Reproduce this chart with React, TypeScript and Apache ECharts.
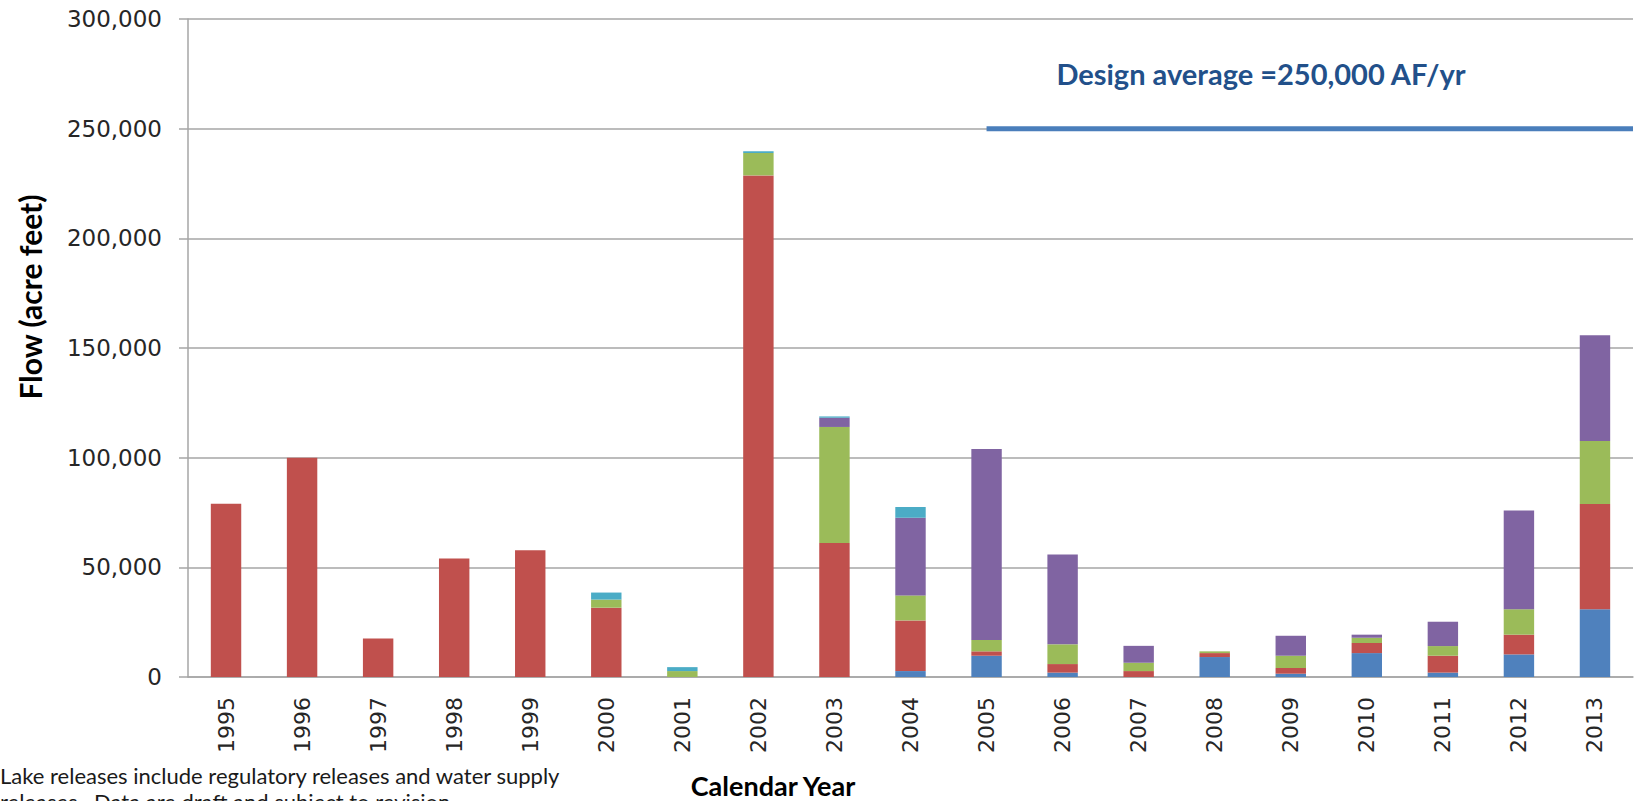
import React, { useEffect, useRef } from "react";
import * as echarts from "echarts";

const years = ["1995","1996","1997","1998","1999","2000","2001","2002","2003","2004","2005","2006","2007","2008","2009","2010","2011","2012","2013"];
const blueVals   = [0, 0, 0, 0, 0, 0, 0, 0, 0, 2700, 9700, 2000, 0, 9100, 1500, 10900, 2000, 10300, 30900];
const redVals    = [79000, 100000, 17500, 54000, 57800, 31600, 0, 228700, 61100, 23100, 2000, 3900, 2700, 1800, 2600, 4600, 7700, 9000, 48000];
const greenVals  = [0, 0, 0, 0, 0, 3700, 2700, 10200, 52900, 11400, 5200, 9000, 3800, 800, 5600, 2400, 4400, 11600, 28700];
const purpleVals = [0, 0, 0, 0, 0, 0, 0, 0, 4200, 35400, 87100, 40900, 7700, 0, 9100, 1400, 11100, 45000, 48200];
const cyanVals   = [0, 0, 0, 0, 0, 3200, 1800, 800, 600, 4900, 0, 0, 0, 0, 0, 0, 0, 0, 0];
const designAverage = 250000;
const designLineStartIndex = 10.5; // centre of 2005
const yTicks = { min: 0, max: 300000, interval: 50000 };

const seriesDefs = [
  { name: "Series 1", data: blueVals, color: "#4F81BD" },
  { name: "Series 2", data: redVals, color: "#C0504D" },
  { name: "Series 3", data: greenVals, color: "#9BBB59" },
  { name: "Series 4", data: purpleVals, color: "#8064A2" },
  { name: "Series 5", data: cyanVals, color: "#4BACC6" },
];

export default function App() {
  const ref = useRef<HTMLDivElement>(null);
  useEffect(() => {
    if (!ref.current) return;
    const chart = echarts.init(ref.current, null, { renderer: "svg" });
    const gray = "#A6A6A6";
    const barSeries = seriesDefs.map((s) => ({
      name: s.name,
      type: "bar",
      stack: "total",
      barWidth: "40%",
      data: s.data,
      itemStyle: { color: s.color },
      xAxisIndex: 0,
      yAxisIndex: 0,
    }));
    chart.setOption({
      animation: false,
      backgroundColor: "#ffffff",
      grid: { left: 188, right: 19, top: 19, bottom: 124, containLabel: false },
      xAxis: [
        {
          type: "category",
          data: years,
          axisLine: { lineStyle: { color: gray, width: 1.5 } },
          axisTick: { length: 10, lineStyle: { color: gray, width: 1.5 } },
          axisLabel: {
            rotate: 90,
            margin: 20,
            fontFamily: "DejaVu Sans",
            fontSize: 22,
            color: "#262626",
          },
        },
        { type: "value", min: 0, max: years.length, show: false },
      ],
      yAxis: {
        type: "value",
        min: yTicks.min,
        max: yTicks.max,
        interval: yTicks.interval,
        axisLine: { show: true, lineStyle: { color: gray, width: 1.5 } },
        axisTick: { show: true, length: 9, lineStyle: { color: gray, width: 1.5 } },
        splitLine: { lineStyle: { color: gray, width: 1.5 } },
        axisLabel: {
          margin: 26,
          fontFamily: "DejaVu Sans",
          fontSize: 23,
          color: "#262626",
          formatter: (v: number) => v.toLocaleString("en-US"),
        },
      },
      series: [
        ...barSeries,
        {
          name: "Design average",
          type: "line",
          xAxisIndex: 1,
          yAxisIndex: 0,
          symbol: "none",
          data: [
            [designLineStartIndex, designAverage],
            [years.length, designAverage],
          ],
          lineStyle: { color: "#4A7EBB", width: 5 },
          z: 5,
        },
      ],
      graphic: [
        {
          type: "text",
          x: 1261,
          y: 73,
          style: {
            text: "Design average =250,000 AF/yr",
            fontFamily: "Lato",
            fontWeight: "bold",
            fontSize: 29,
            fill: "#22508A",
            align: "center",
            verticalAlign: "middle",
          },
        },
        {
          type: "text",
          x: 773,
          y: 785,
          style: {
            text: "Calendar Year",
            fontFamily: "Lato",
            fontWeight: "bold",
            fontSize: 27,
            fill: "#000000",
            align: "center",
            verticalAlign: "middle",
          },
        },
        {
          type: "text",
          x: 30,
          y: 297,
          rotation: Math.PI / 2,
          style: {
            text: "Flow (acre feet)",
            fontFamily: "Lato",
            fontWeight: "bold",
            fontSize: 30,
            fill: "#000000",
            align: "center",
            verticalAlign: "middle",
          },
        },
        {
          type: "text",
          x: 0,
          y: 775,
          style: {
            text: "Lake releases include regulatory releases and water supply",
            fontFamily: "Lato",
            fontSize: 22,
            fill: "#1a1a1a",
            align: "left",
            verticalAlign: "middle",
          },
        },
        {
          type: "text",
          x: 0,
          y: 801,
          style: {
            text: "releases.  Data are draft and subject to revision.",
            fontFamily: "Lato",
            fontSize: 22,
            fill: "#1a1a1a",
            align: "left",
            verticalAlign: "middle",
          },
        },
      ],
    });
    return () => chart.dispose();
  }, []);
  return (
    <div
      ref={ref}
      style={{ position: "fixed", left: 0, top: 0, width: 1652, height: 801, background: "#fff" }}
    />
  );
}
